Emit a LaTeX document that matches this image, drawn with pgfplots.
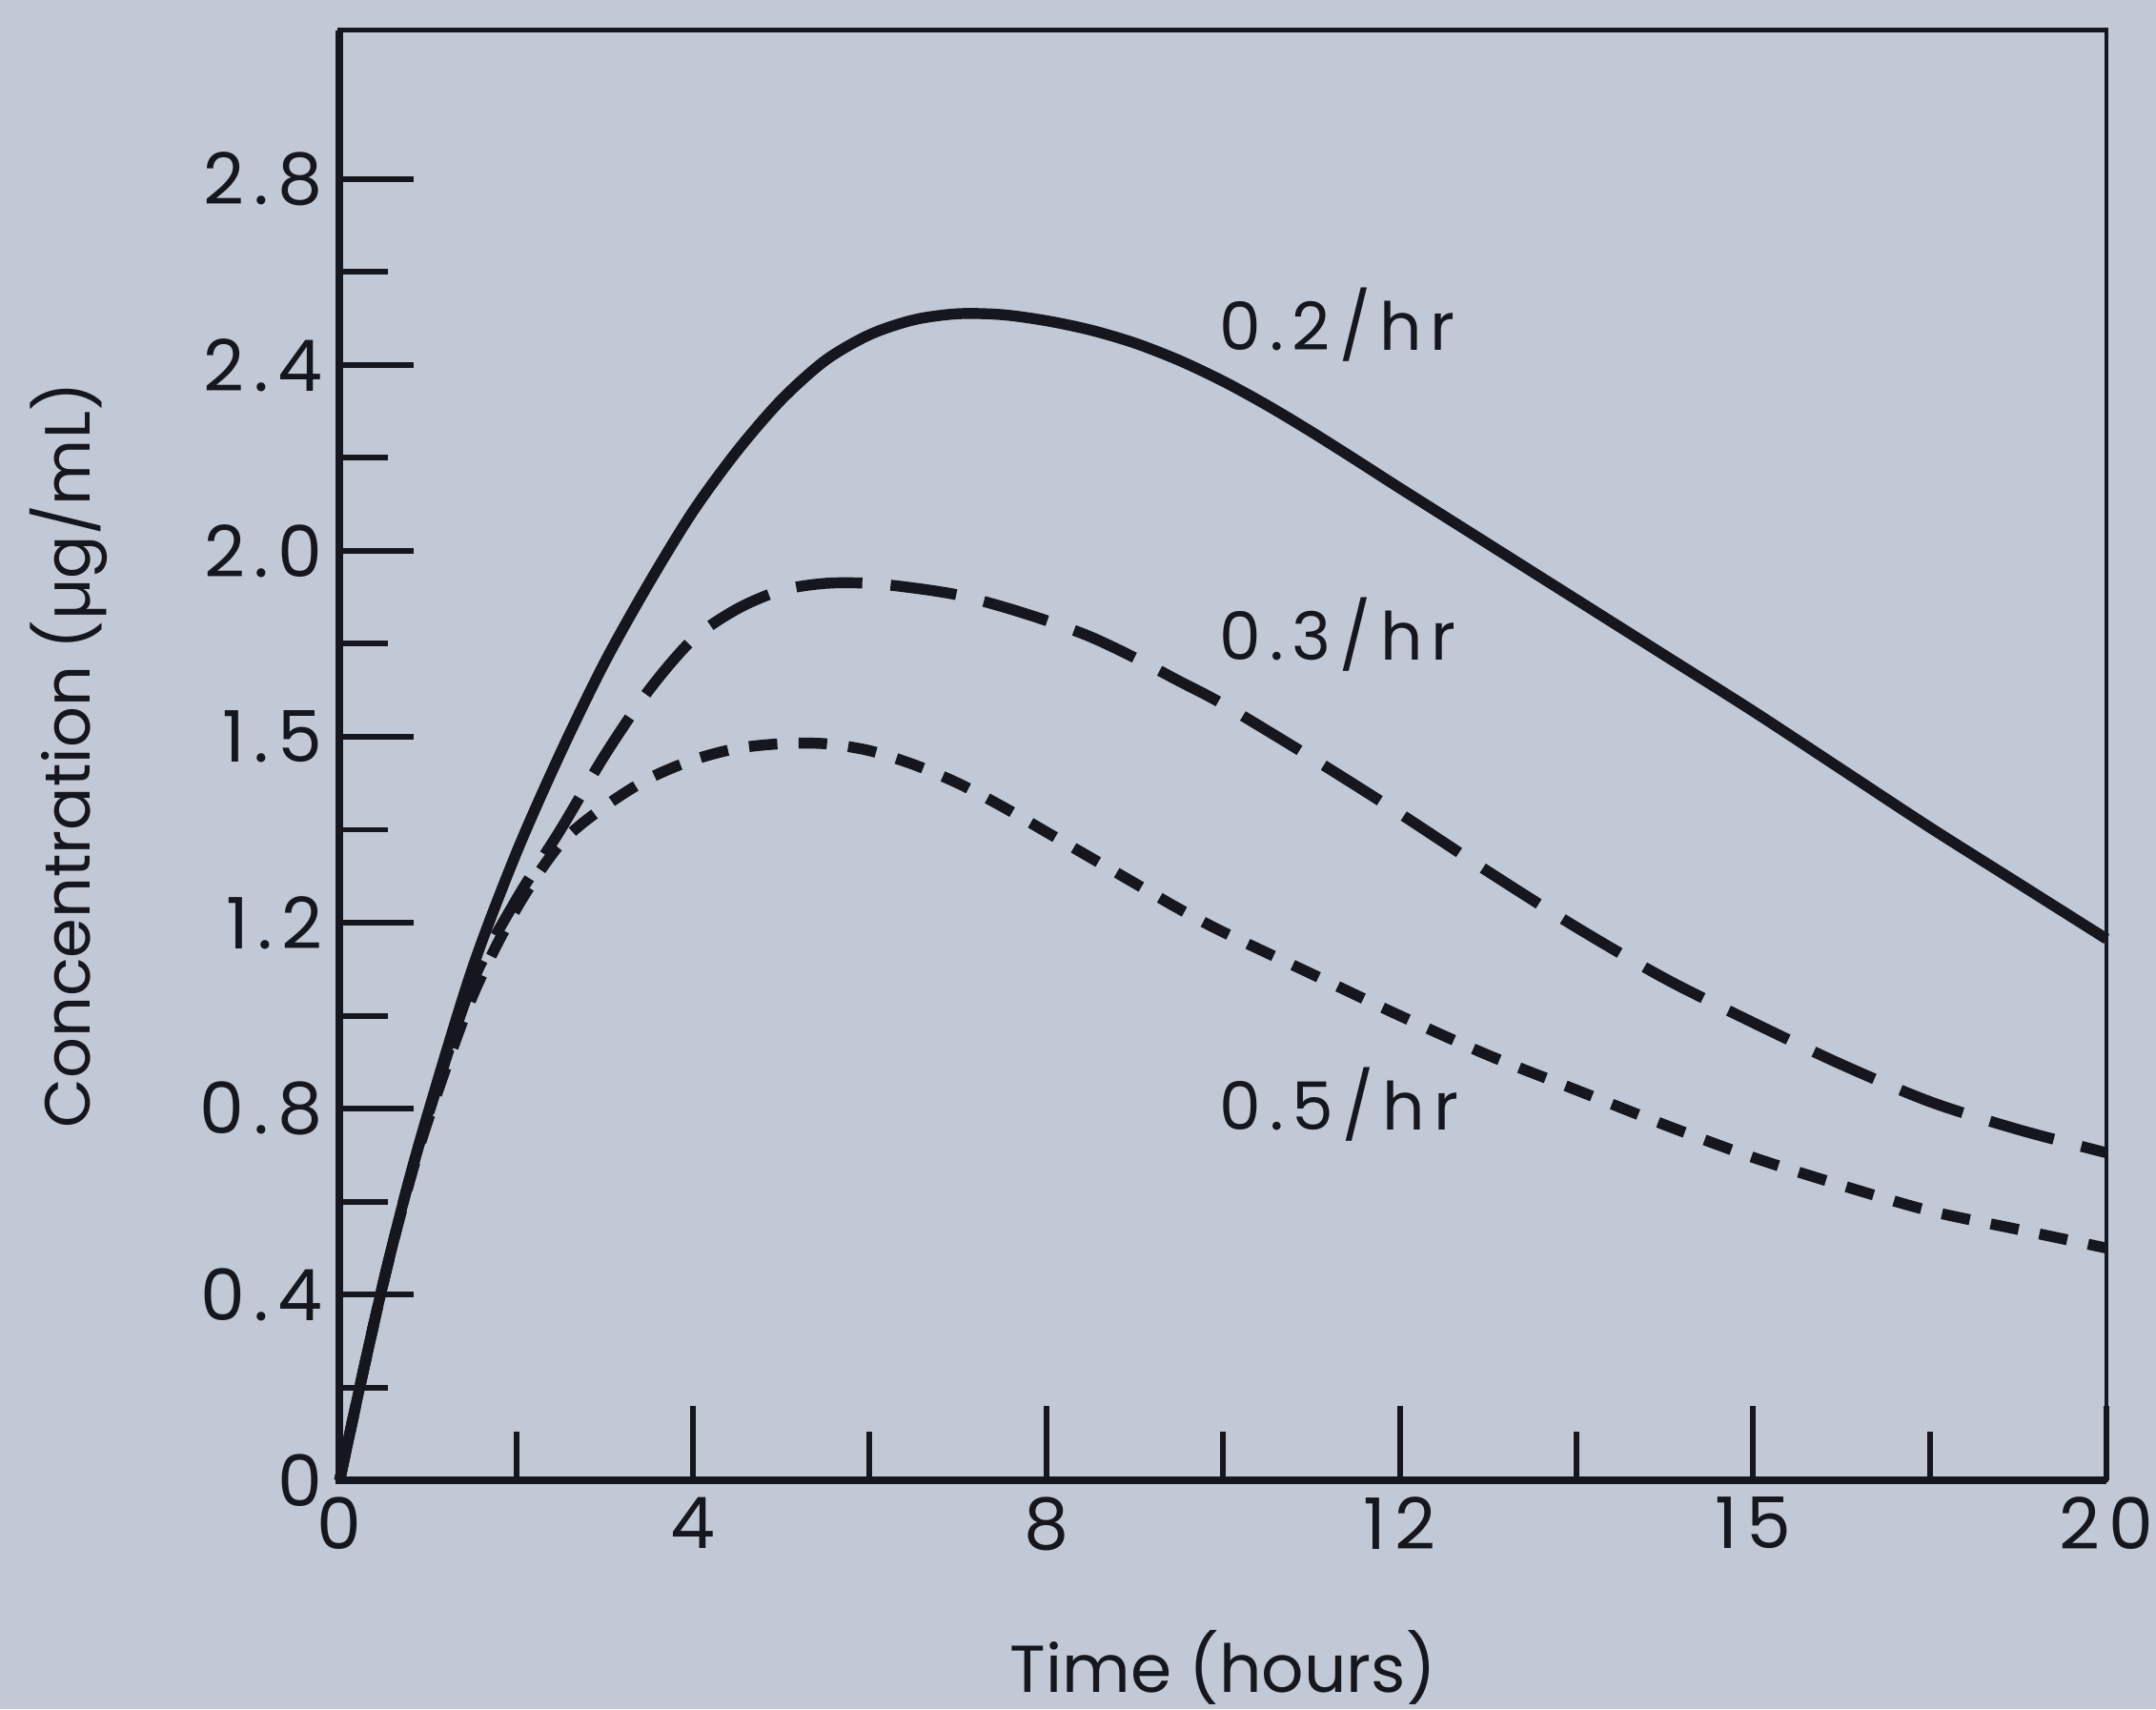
\documentclass[border=0pt]{standalone}
\usepackage{fontspec}
\setmainfont{Poppins}
\newfontfamily\spaced[LetterSpace=13]{Poppins}
\usepackage{pgfplots}
\usepackage{pgfplotstable}
\pgfplotsset{compat=1.18}

\definecolor{paper}{RGB}{192,201,213}
\definecolor{ink}{RGB}{22,22,30}

% concentration curves
\pgfplotstableread{
t c
0 0
0.25 0.22
0.5 0.43
0.75 0.62
1.0 0.79
1.5 1.10
2.0 1.35
2.5 1.565
3.0 1.76
3.5 1.93
4.0 2.085
4.5 2.215
5.0 2.325
5.5 2.41
6.0 2.465
6.5 2.497
7.0 2.51
7.5 2.508
8.0 2.495
8.5 2.475
9.0 2.447
9.5 2.41
10.0 2.365
10.5 2.313
11.0 2.256
11.5 2.196
12.0 2.135
13.0 2.015
14.0 1.895
15.0 1.775
16.0 1.655
17.0 1.53
18.0 1.405
19.0 1.285
20.0 1.165
}\kA

\pgfplotstableread{
t c
0 0
0.25 0.22
0.5 0.43
0.75 0.62
1.0 0.785
1.5 1.07
2.0 1.25
2.5 1.40
3.0 1.56
3.5 1.70
4.0 1.81
4.5 1.875
5.0 1.915
5.5 1.93
6.0 1.93
6.5 1.92
7.0 1.905
7.5 1.88
8.0 1.85
8.5 1.815
9.0 1.77
9.5 1.72
10.0 1.67
11.0 1.555
12.0 1.435
13.0 1.31
14.0 1.19
15.0 1.08
16.0 0.985
17.0 0.895
18.0 0.815
19.0 0.755
20.0 0.705
}\kB

\pgfplotstableread{
t c
0 0
0.25 0.22
0.5 0.43
0.75 0.615
1.0 0.775
1.5 1.04
2.0 1.23
2.5 1.37
3.0 1.45
3.5 1.51
4.0 1.55
4.5 1.575
5.0 1.585
5.5 1.585
6.0 1.57
6.5 1.54
7.0 1.50
7.5 1.45
8.0 1.395
8.5 1.34
9.0 1.285
9.5 1.23
10.0 1.18
11.0 1.09
12.0 1.00
13.0 0.915
14.0 0.84
15.0 0.765
16.0 0.695
17.0 0.635
18.0 0.58
19.0 0.54
20.0 0.50
}\kC

\begin{document}
\begin{tikzpicture}
\path[use as bounding box, fill=paper] (-2.52,-1.699) rectangle (13.477,10.9845);
\begin{axis}[
    at={(0,0)}, anchor=south west,
    scale only axis,
    width=13.11cm, height=10.76cm,
    xmin=0, xmax=20, ymin=0, ymax=3.12,
    axis line style={ink, line width=0.9pt},
    tick pos=left, tick align=inside,
    xtick={0,4,8,12,16,20},
    xticklabels={0,4,8,12,15,20},
    minor xtick={2,6,10,14,18},
    ytick={0,0.4,0.8,1.2,1.6,2.0,2.4,2.8},
    yticklabels={0,0.4,0.8,1.2,1.5,2.0,2.4,2.8},
    minor ytick={0.2,0.6,1.0,1.4,1.8,2.2,2.6},
    major tick length=0.55cm, minor tick length=0.36cm,
    tick style={ink, line width=1.2pt},
    ticklabel style={font=\spaced\fontsize{15}{18}\selectfont, text=ink},
    xlabel={Time (hours)},
    ylabel={Concentration (µg/mL)},
    xlabel style={at={(axis description cs:0.5,-0.129)}, anchor=center,
        font=\fontsize{14}{17}\selectfont, text=ink},
    ylabel style={at={(axis description cs:-0.1533,0.5)}, anchor=center,
        font=\fontsize{13.5}{16}\selectfont, text=ink},
    clip=false,
]
\addplot[ink, line width=2.3pt, smooth] table[x=t, y=c] {\kA};
\addplot[ink, line width=2.3pt, smooth, dash pattern=on 14pt off 6pt] table[x=t, y=c] {\kB};
\addplot[ink, line width=2.3pt, smooth, dash pattern=on 6pt off 4.5pt] table[x=t, y=c] {\kC};

\draw[ink, line width=1.6pt] (rel axis cs:0,1) -- (rel axis cs:0,0) -- (rel axis cs:1,0);

\node[anchor=west, inner sep=0pt, text=ink, font=\spaced\fontsize{14}{17}\selectfont] at (axis cs:9.95,2.487) {0.2/hr};
\node[anchor=west, inner sep=0pt, text=ink, font=\spaced\fontsize{14}{17}\selectfont] at (axis cs:9.95,1.82) {0.3/hr};
\node[anchor=west, inner sep=0pt, text=ink, font=\spaced\fontsize{14}{17}\selectfont] at (axis cs:9.95,0.81) {0.5/hr};
\end{axis}
\end{tikzpicture}
\end{document}
